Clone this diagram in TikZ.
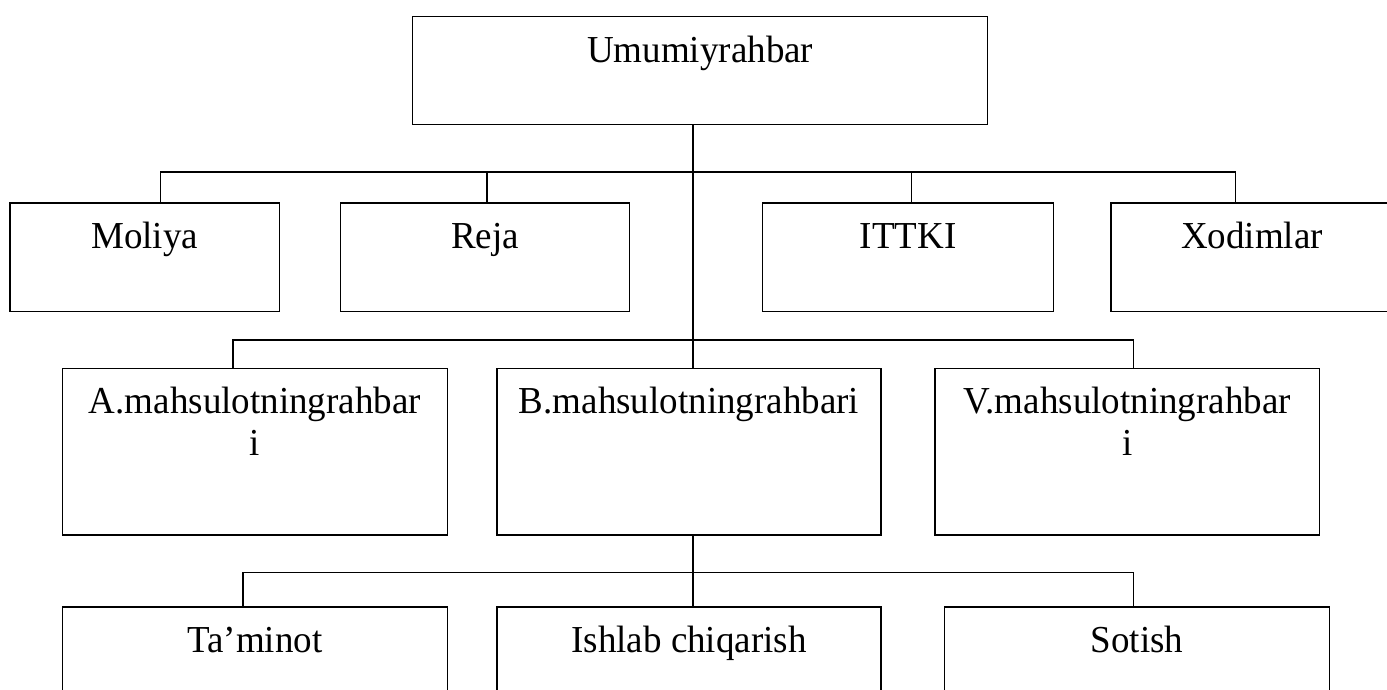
\documentclass[tikz,border=0pt]{standalone}
\usepackage{fontspec}
\usepackage{graphicx}
\setmainfont{Liberation Serif}
\newcommand{\tallt}[1]{\scalebox{1}[1.03]{#1}}
\begin{document}
\begin{tikzpicture}[x=1pt,y=-1pt,
  box/.style={draw, line width=1.35pt, rectangle, anchor=north, inner xsep=0pt, inner ysep=0pt,
    font=\fontsize{37}{41}\selectfont},
  lvlone/.style={box, text height=46pt, text depth=62.2pt},
  lvltwo/.style={box, text height=45pt, text depth=121.6pt},
  lvlthree/.style={box, text height=45.4pt, text depth=100pt},
  conn/.style={line width=1.35pt}]
\useasboundingbox (0,0) rectangle (1387,689);
\clip (0,0) rectangle (1387,689);

% boxes
\node[box, minimum width=575pt, text height=46pt, text depth=62.3pt] (top) at (700.2,15.7) {\tallt{Umumiyrahbar}};

\node[lvlone, minimum width=269.7pt] (moliya) at (144.7,202.3) {\tallt{Moliya}};
\node[lvlone, minimum width=288.9pt] (reja) at (485,202.3) {\tallt{Reja}};
\node[lvlone, minimum width=290.9pt] (ittki) at (908.2,202.3) {\tallt{ITTKI}};
\node[lvlone, minimum width=282pt] (xodim) at (1252,202.3) {\tallt{Xodimlar}};

\node[lvltwo, minimum width=384.8pt] (amah) at (254.9,367.7) {\tallt{\begin{tabular}[t]{@{}c@{}}A.mahsulotningrahbar\\ i\end{tabular}}};
\node[lvltwo, minimum width=384.1pt] (bmah) at (689,367.7) {\tallt{B.mahsulotningrahbari}};
\node[lvltwo, minimum width=384.7pt] (vmah) at (1127.3,367.7) {\tallt{\begin{tabular}[t]{@{}c@{}}V.mahsulotningrahbar\\ i\end{tabular}}};

\node[lvlthree, minimum width=384.8pt] (taminot) at (254.9,606.3) {\tallt{Ta’minot}};
\node[lvlthree, minimum width=384.1pt] (ishlab) at (689,606.3) {\tallt{Ishlab chiqarish}};
\node[lvlthree, minimum width=385.2pt] (sotish) at (1137.1,606.3) {\tallt{Sotish}};

% connector coordinates
\coordinate (spine) at (693,0);
\coordinate (bonel) at (160.7,172);
\coordinate (boner) at (1235.5,172);
\coordinate (bonea) at (487,172);
\coordinate (boneb) at (911.7,172);
\coordinate (btwol) at (233,340);
\coordinate (btwor) at (1133.8,340);
\coordinate (bthrl) at (243,572.3);
\coordinate (bthrr) at (1133.8,572.3);

% spine
\draw[conn] (spine |- top.south) -- (spine |- bmah.north);
\draw[conn] (spine |- bmah.south) -- (spine |- ishlab.north);

% level one bus
\draw[conn] (bonel |- moliya.north) -- (bonel) -- (boner) -- (boner |- xodim.north);
\draw[conn] (bonea) -- (bonea |- reja.north);
\draw[conn] (boneb) -- (boneb |- ittki.north);

% level two bus
\draw[conn] (btwol |- amah.north) -- (btwol) -- (btwor) -- (btwor |- vmah.north);

% level three bus
\draw[conn] (bthrl |- taminot.north) -- (bthrl) -- (bthrr) -- (bthrr |- sotish.north);
\end{tikzpicture}
\end{document}
